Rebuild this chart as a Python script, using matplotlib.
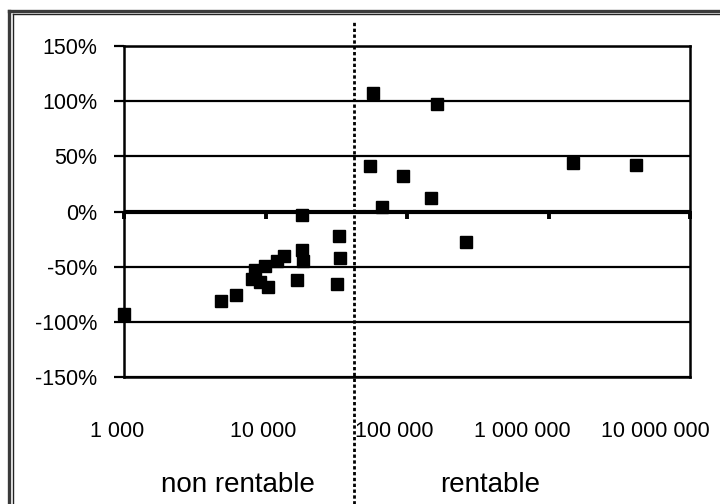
import matplotlib
matplotlib.use("Agg")
import matplotlib.pyplot as plt
from matplotlib.lines import Line2D
import matplotlib.transforms as mtransforms

plt.rcParams['font.family'] = ['Liberation Sans', 'DejaVu Sans']

# ---- data ----
x_vals = [1000, 4820, 6170, 7980, 8440, 9140, 9900, 10500, 12000, 13500,
          16600, 18000, 18000, 18300, 31800, 33300, 33500, 54800, 57800,
          66200, 93300, 146800, 163700, 261000, 1500000, 4150000]
y_vals = [-93, -81, -76, -61, -53, -64, -49, -68, -45, -40,
          -62, -3, -35, -45, -66, -22, -42, 41, 107,
          4, 32, 12, 97, -28, 44, 42]
x_ticks = [1000, 10000, 100000, 1000000, 10000000]
x_tick_labels = ["1 000", "10 000", "100 000", "1 000 000", "10 000 000"]
y_ticks = [-150, -100, -50, 0, 50, 100, 150]
y_tick_labels = ["-150%", "-100%", "-50%", "0%", "50%", "100%", "150%"]
threshold = 42200
region_labels = ["non rentable", "rentable"]

W, H = 720, 504
fig = plt.figure(figsize=(7.2, 5.04), dpi=100)
ax = fig.add_axes([124 / W, 1 - 377 / H, 566 / W, 331 / H])

ax.set_xscale('log')
ax.set_xlim(1000, 10000000)
ax.set_ylim(-150, 150)

# gridlines
for v in y_ticks:
    if v != 0:
        ax.axhline(v, color='black', lw=1.6, zorder=1)
ax.axhline(0, color='black', lw=3.0, zorder=2)

for s in ax.spines.values():
    s.set_linewidth(1.8)
    s.set_color('black')

# y axis
ax.set_yticks(y_ticks)
ax.set_yticklabels(y_tick_labels)
ax.tick_params(axis='y', direction='out', length=7, width=1.6, pad=12,
               labelsize=15.5)

# x axis labels (bottom, no tick marks)
ax.set_xticks(x_ticks)
ax.set_xticklabels(x_tick_labels)
ax.xaxis.set_minor_locator(matplotlib.ticker.NullLocator())
ax.tick_params(axis='x', length=0, pad=32, labelsize=15.5)
offsets_px = [-7, -2, -13, -26, -35]
for lab, dx in zip(ax.get_xticklabels(), offsets_px):
    lab.set_transform(lab.get_transform() +
                      mtransforms.ScaledTranslation(dx / 100, 0, fig.dpi_scale_trans))

# zero axis with downward ticks
sec = ax.secondary_xaxis(0.5)
sec.set_xticks(x_ticks)
sec.set_xticklabels([])
sec.xaxis.set_minor_locator(matplotlib.ticker.NullLocator())
sec.tick_params(axis='x', direction='in', length=6, width=2.8)
for sp in sec.spines.values():
    sp.set_visible(False)

# data
ax.plot(x_vals, y_vals, linestyle='none', marker='s', markersize=9,
        color='black', zorder=5, clip_on=False)

# threshold dotted line
ax.axvline(threshold, ymin=-0.384, ymax=1.0725, color='black', lw=2.0,
           linestyle=(0, (1.2, 0.9)), clip_on=False, zorder=6)

# region labels
fig.text(238 / W, 1 - 485 / H, region_labels[0], ha='center', va='center',
         fontsize=20)
fig.text(490 / W, 1 - 485 / H, region_labels[1], ha='center', va='center',
         fontsize=20)

# border (double line)
fig.add_artist(Line2D([8.5 / W, 8.5 / W], [0, 1 - 10.5 / H], transform=fig.transFigure,
                      color='#3a3a3a', lw=2.4))
fig.add_artist(Line2D([8.5 / W, 1], [1 - 10.5 / H, 1 - 10.5 / H], transform=fig.transFigure,
                      color='#3a3a3a', lw=2.4))
fig.add_artist(Line2D([12.5 / W, 12.5 / W], [0, 1 - 14 / H], transform=fig.transFigure,
                      color='#222222', lw=1.0))
fig.add_artist(Line2D([12.5 / W, 1], [1 - 14 / H, 1 - 14 / H], transform=fig.transFigure,
                      color='#222222', lw=1.0))

fig.savefig('out.png', dpi=100)
